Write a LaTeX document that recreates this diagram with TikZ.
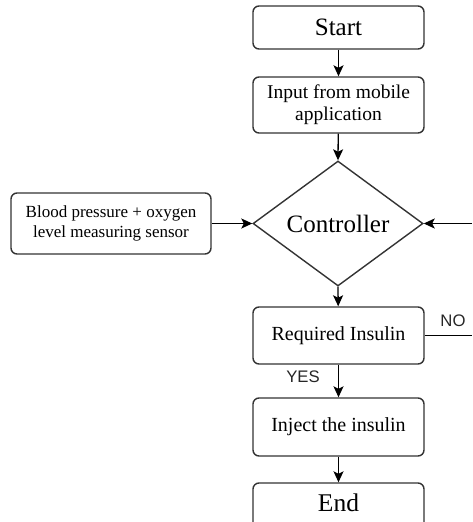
\documentclass[tikz,border=0pt]{standalone}
\usepackage{fontspec}
\setmainfont{Liberation Serif}
\newfontfamily\labelfont{Liberation Sans}
\usetikzlibrary{shapes.geometric,arrows.meta}
\definecolor{edge}{HTML}{333333}
\tikzset{
  box/.style={draw=edge, line width=1.4pt, rounded corners=6pt, minimum width=171pt, inner sep=0pt, align=center, fill=white},
  flow/.style={draw=black, line width=1.3pt, -{Stealth[length=11pt,width=10pt,inset=2.5pt]}},
  plain/.style={draw=black, line width=1.3pt},
  lbl/.style={font=\labelfont\fontsize{16.7}{18}\selectfont, text=black!85, inner sep=0pt}
}
\begin{document}
\begin{tikzpicture}[x=1pt,y=-1pt]
\useasboundingbox (0,0) rectangle (472,522);
\clip (0,0) rectangle (472,522);
\node[box, minimum height=43pt, font=\fontsize{25}{28}\selectfont] (start) at (338.5,27.5) {Start};
\node[box, minimum height=56pt, font=\fontsize{19.5}{22}\selectfont] (input) at (338.5,105) {Input from mobile\\application};
\node[draw=edge, line width=1.4pt, diamond, minimum width=170pt, minimum height=125pt, inner sep=0pt, font=\fontsize{25}{28}\selectfont] (ctrl) at (338,223.5) {Controller};
\node[box, minimum width=200pt, minimum height=61pt, font=\fontsize{17}{20}\selectfont] (sensor) at (111,223.5) {Blood pressure + oxygen\\level measuring sensor};
\node[box, minimum height=57pt, font=\fontsize{20}{23}\selectfont] (req) at (338.5,335.5) {Required Insulin};
\node[box, minimum height=58pt, font=\fontsize{20}{23}\selectfont] (inj) at (338.5,427) {Inject the insulin};
\node[box, minimum height=57pt, font=\fontsize{25.5}{28}\selectfont] (end) at (338.5,511.5) {};
\node[font=\fontsize{25.5}{28}\selectfont, inner sep=0pt] (endtxt) at (338.5,503) {End};
\coordinate (rin) at (472,223.5);
\coordinate (rout) at (472,335.5);
\draw[flow] (start) -- (input);
\draw[flow] (input) -- (ctrl.north);
\draw[flow] (ctrl.south) -- (req);
\draw[flow] (req) -- (inj);
\draw[flow] (inj) -- (end);
\draw[flow] (sensor) -- (ctrl.west);
\draw[flow] (rin) -- (ctrl.east);
\draw[plain] (req.east) -- (rout);
\node[lbl] (yes) at (303,377) {YES};
\node[lbl] (no) at (453,321) {NO};
\end{tikzpicture}
\end{document}
